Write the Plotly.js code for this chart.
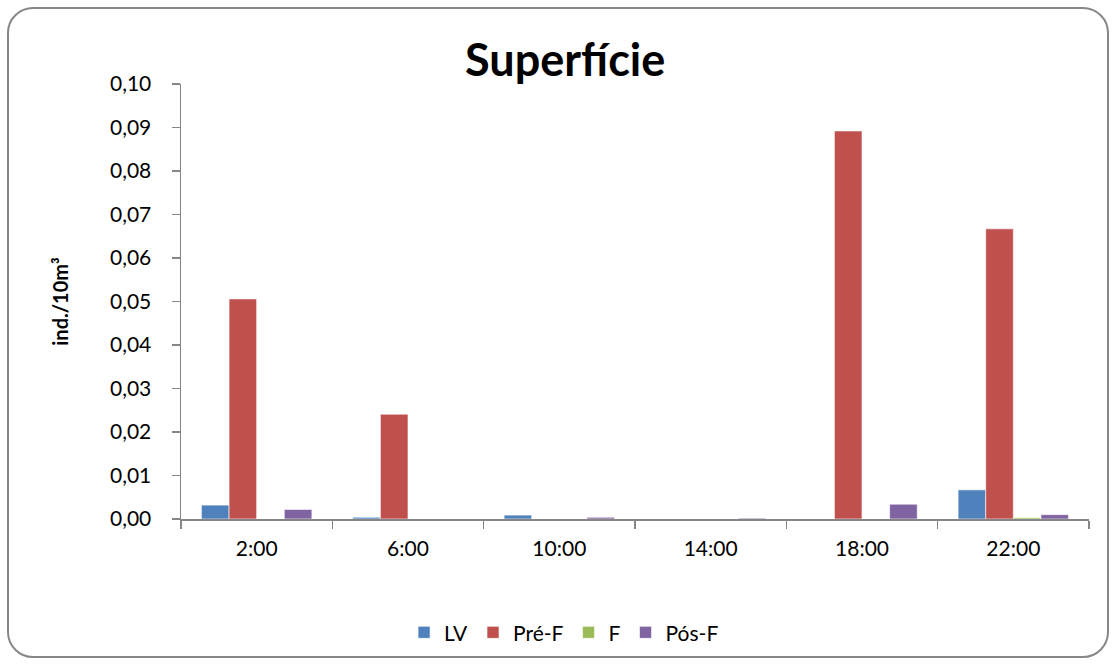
<!DOCTYPE html>
<html><head><meta charset="utf-8">
<script src="https://cdn.plot.ly/plotly-3.0.1.min.js"></script>
<style>
html,body{margin:0;padding:0;background:#fff;}
#frame{position:absolute;left:7px;top:7px;width:1098px;height:647px;border:2px solid #878787;border-radius:26px;pointer-events:none;z-index:10;}
#chart{position:absolute;left:0;top:0;width:1117px;height:666px;}
</style></head>
<body>
<div id="chart"></div>
<div id="frame"></div>
<script>
const categories = ['2:00','6:00','10:00','14:00','18:00','22:00'];
const seriesNames = ['LV','Pré-F','F','Pós-F'];
const LV    = [0.0032, 0.0004, 0.0009, 0.0000, 0.0000, 0.0067];
const PreF  = [0.0506, 0.0241, 0.0000, 0.0000, 0.0892, 0.0667];
const F     = [0.0000, 0.0000, 0.0000, 0.0000, 0.0000, 0.0003];
const PosF  = [0.0022, 0.0000, 0.0004, 0.0002, 0.0034, 0.0010];
const colors = ['#4F81BD','#C0504D','#9BBB59','#8064A2'];
const values = [LV, PreF, F, PosF];

const traces = values.map((v,i)=>({
  type:'bar', x:categories, y:v, name:seriesNames[i],
  marker:{color:colors[i], line:{color:'rgba(255,255,255,0.6)', width:1}}
}));

const font = 'Lato, "Open Sans", sans-serif';
const layout = {
  width:1117, height:666,
  margin:{l:181, r:28, t:84, b:147},
  paper_bgcolor:'#fff', plot_bgcolor:'#fff',
  separators:',.',
  font:{family:font, size:20, color:'#000'},
  title:{text:'<b>Superfície</b>', font:{family:font, size:45, color:'#000'}, x:0.506, xref:'container', y:0.91, yref:'container', yanchor:'middle'},
  barmode:'group', bargap:0.27, bargroupgap:0,
  showlegend:true,
  legend:{orientation:'h', x:0.505, xref:'container', xanchor:'center', y:0.05, yref:'container', yanchor:'middle', font:{family:font, size:21}, itemwidth:30, traceorder:'normal'},
  xaxis:{type:'category', showline:true, linecolor:'#868686', linewidth:1.5, ticks:'outside', tickson:'boundaries', ticklen:8, tickcolor:'#868686', tickwidth:1.5, showgrid:false, tickfont:{family:font, size:21}, ticklabelstandoff:10, fixedrange:true},
  yaxis:{range:[0,0.1], dtick:0.01, tickformat:'.2f', showline:true, linecolor:'#868686', linewidth:1.5, ticks:'outside', ticklen:8, tickcolor:'#868686', tickwidth:1.5, showgrid:false, zeroline:false, tickfont:{family:font, size:21}, ticklabelstandoff:16,
    title:{text:'<b>ind./10m³</b>', font:{family:font, size:20}, standoff:36}}
};
Plotly.newPlot('chart', traces, layout, {displayModeBar:false, staticPlot:true});
</script>
</body></html>
